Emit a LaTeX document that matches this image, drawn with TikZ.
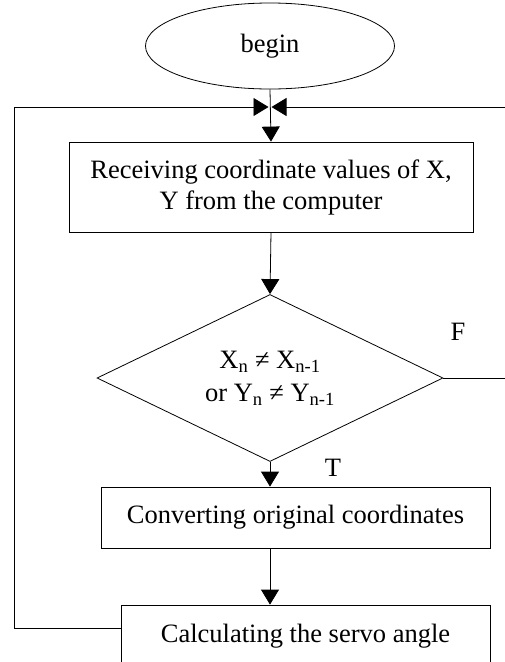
\documentclass[tikz,border=0pt]{standalone}
\usepackage{fontspec}
\setmainfont{Liberation Serif}
\usetikzlibrary{shapes.geometric,arrows.meta}
\begin{document}
\begin{tikzpicture}[x=1pt,y=-1pt,line width=0.8pt,font=\fontsize{26.5}{31}\selectfont,
  box/.style={draw,rectangle,inner sep=0pt,align=center},
  arr/.style={-{Triangle[width=18pt,length=15pt]}}]
\useasboundingbox (0,0) rectangle (504,662);
\node[draw,ellipse,minimum width=249pt,minimum height=86pt,inner sep=0pt] at (270,46) (start) {begin};
\node[box,minimum width=404pt,minimum height=90pt] at (271,187) (recv) {Receiving coordinate values of X,\\Y from the computer};
\node[draw,diamond,aspect=2.07,minimum width=346pt,minimum height=167pt,inner sep=0pt,align=center] at (270,378) (check) {X\textsubscript{n} ≠ X\textsubscript{n-1}\\[2pt]or Y\textsubscript{n} ≠ Y\textsubscript{n-1}};
\node[box,minimum width=389pt,minimum height=61pt] at (295.5,517.5) (conv) {Converting original coordinates};
\node[box,minimum width=369pt,minimum height=62pt] at (305.5,636) (servo) {Calculating the servo angle};
\node at (458,332) (f) {F};
\node at (333,468) (t) {T};
\coordinate (join) at (270,107);
\coordinate (lefttop) at (14,107);
\coordinate (righttop) at (506,107);
\draw[arr] (start.south) -- (recv.north);
\draw[arr] (recv.south) -- (check.north);
\draw[arr] (check.south) -- (check.south |- conv.north);
\draw[arr] (check.south |- conv.south) -- (check.south |- servo.north);
\draw[arr,shorten >=1.5pt] ([yshift=8pt]servo.west) -| (lefttop) -- (join);
\draw[arr,shorten >=1.5pt] (check.east) -| (righttop) -- (join);
\end{tikzpicture}
\end{document}
